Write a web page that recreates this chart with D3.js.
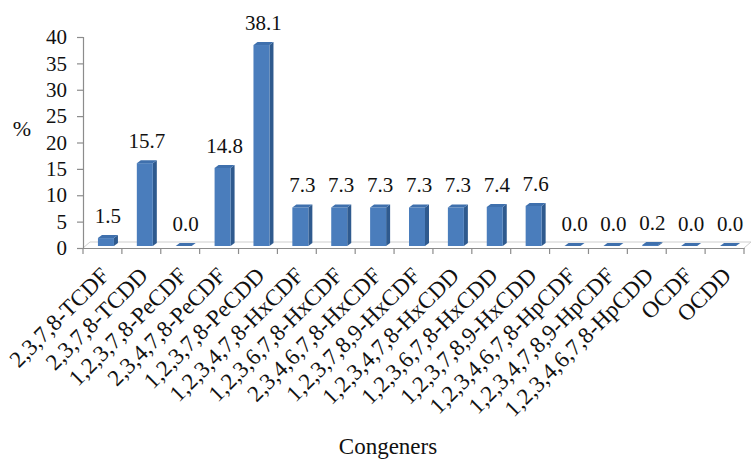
<!DOCTYPE html>
<html>
<head>
<meta charset="utf-8">
<script src="https://cdn.jsdelivr.net/npm/d3@7"></script>
<style>
  html, body { margin: 0; padding: 0; background: #fff; }
  svg { display: block; }
</style>
</head>
<body>
<svg id="chart" width="752" height="459"></svg>
<script>
// PCDD/F congener profile (% of total)
const categories = [
  "2,3,7,8-TCDF", "2,3,7,8-TCDD", "1,2,3,7,8-PeCDF", "2,3,4,7,8-PeCDF",
  "1,2,3,7,8-PeCDD", "1,2,3,4,7,8-HxCDF", "1,2,3,6,7,8-HxCDF", "2,3,4,6,7,8-HxCDF",
  "1,2,3,7,8,9-HxCDF", "1,2,3,4,7,8-HxCDD", "1,2,3,6,7,8-HxCDD", "1,2,3,7,8,9-HxCDD",
  "1,2,3,4,6,7,8-HpCDF", "1,2,3,4,7,8,9-HpCDF", "1,2,3,4,6,7,8-HpCDD", "OCDF", "OCDD"
];
const values = [1.5, 15.7, 0.0, 14.8, 38.1, 7.3, 7.3, 7.3, 7.3, 7.3, 7.4, 7.6, 0.0, 0.0, 0.2, 0.0, 0.0];
const yTicks = [0, 5, 10, 15, 20, 25, 30, 35, 40];

const FONT = "'Liberation Serif', 'Times New Roman', 'DejaVu Serif', serif";

const svg = d3.select("#chart");

const x = d3.scaleBand().domain(categories).range([83, 744]);
const y = d3.scaleLinear().domain([0, 40]).range([248, 37]);

// depth of the floor and of each column
const floorDX = 7, floorDY = -6;
const barDX = 4, barDY = -3;
const barW = 16;
const barShiftX = 3.5, barShiftY = -2;

const axisColor = "#8c8c8c";

// floor
const y0 = y(0);
svg.append("path")
  .attr("d", `M${x.range()[0]},${y0} L${x.range()[0] + floorDX},${y0 + floorDY} L${x.range()[1] + floorDX},${y0 + floorDY} L${x.range()[1]},${y0}`)
  .attr("fill", "none")
  .attr("stroke", "#cfcfcf")
  .attr("stroke-width", 1);

// y axis
const yAxis = d3.axisLeft(y).tickValues(yTicks).tickSize(6).tickPadding(10);
const gy = svg.append("g").attr("transform", `translate(${x.range()[0]},0)`).call(yAxis)
  .attr("font-family", FONT).attr("font-size", 20);
gy.select(".domain").attr("stroke", axisColor).attr("stroke-width", 1.2);
gy.selectAll(".tick line").attr("stroke", axisColor).attr("stroke-width", 1.2);
gy.selectAll(".tick text")
  .style("font-family", FONT)
  .style("font-size", "21px")
  .attr("fill", "#111");

// x axis (category ticks along the front edge)
const xAxis = d3.axisBottom(x).tickSize(0).tickFormat("");
const gx = svg.append("g").attr("transform", `translate(0,${y0})`).call(xAxis);
gx.select(".domain").attr("stroke", axisColor).attr("stroke-width", 1.2);
gx.selectAll(".tick").remove();
const boundaries = categories.map(c => x(c)).concat([x.range()[1]]);
gx.selectAll("line.sep")
  .data(boundaries)
  .join("line")
  .attr("class", "sep")
  .attr("x1", d => d).attr("x2", d => d)
  .attr("y1", 0).attr("y2", 6)
  .attr("stroke", axisColor)
  .attr("stroke-width", 1.2);

// 3D columns
const barData = categories.map((c, i) => ({ c, v: values[i] }));
const bars = svg.append("g").selectAll("g.bar")
  .data(barData)
  .join("g")
  .attr("class", "bar");

function geom(d) {
  const cx = x(d.c) + x.bandwidth() / 2 + barShiftX;
  const x0 = cx - barW / 2, x1 = cx + barW / 2;
  const yb = y(0) + barShiftY, yt = y(d.v) + barShiftY;
  return { x0, x1, yb, yt };
}

// side face
bars.append("path")
  .attr("d", d => {
    const g = geom(d);
    return `M${g.x1},${g.yt} L${g.x1 + barDX},${g.yt + barDY} L${g.x1 + barDX},${g.yb + barDY} L${g.x1},${g.yb}Z`;
  })
  .attr("fill", "#2f5a8e");

// front face
bars.append("rect")
  .attr("x", d => geom(d).x0)
  .attr("y", d => geom(d).yt)
  .attr("width", barW)
  .attr("height", d => geom(d).yb - geom(d).yt)
  .attr("fill", "#4a7dbc");

// top face
bars.append("path")
  .attr("d", d => {
    const g = geom(d);
    return `M${g.x0},${g.yt} L${g.x0 + barDX},${g.yt + barDY} L${g.x1 + barDX},${g.yt + barDY} L${g.x1},${g.yt}Z`;
  })
  .attr("fill", "#3f70ad");

// value labels
svg.append("g").selectAll("text")
  .data(barData)
  .join("text")
  .attr("x", d => x(d.c) + x.bandwidth() / 2 + barShiftX + 2)
  .attr("y", d => y(d.v) - 17)
  .attr("text-anchor", "middle")
  .style("font-family", FONT)
  .style("font-size", "21px")
  .attr("fill", "#111")
  .text(d => d.v.toFixed(1));

// rotated category labels
svg.append("g").selectAll("text")
  .data(categories)
  .join("text")
  .attr("transform", d => `translate(${x(d) + x.bandwidth() / 2 + 8},${y0 + 29}) rotate(-45)`)
  .attr("text-anchor", "end")
  .style("font-family", FONT)
  .style("font-size", "23px")
  .attr("fill", "#111")
  .text(d => d);

// axis titles
svg.append("text")
  .attr("x", 22).attr("y", 136)
  .attr("text-anchor", "middle")
  .style("font-family", FONT)
  .style("font-size", "22px")
  .attr("fill", "#111")
  .text("%");

svg.append("text")
  .attr("x", 388).attr("y", 454)
  .attr("text-anchor", "middle")
  .style("font-family", FONT)
  .style("font-size", "23px")
  .attr("fill", "#111")
  .text("Congeners");
</script>
</body>
</html>
